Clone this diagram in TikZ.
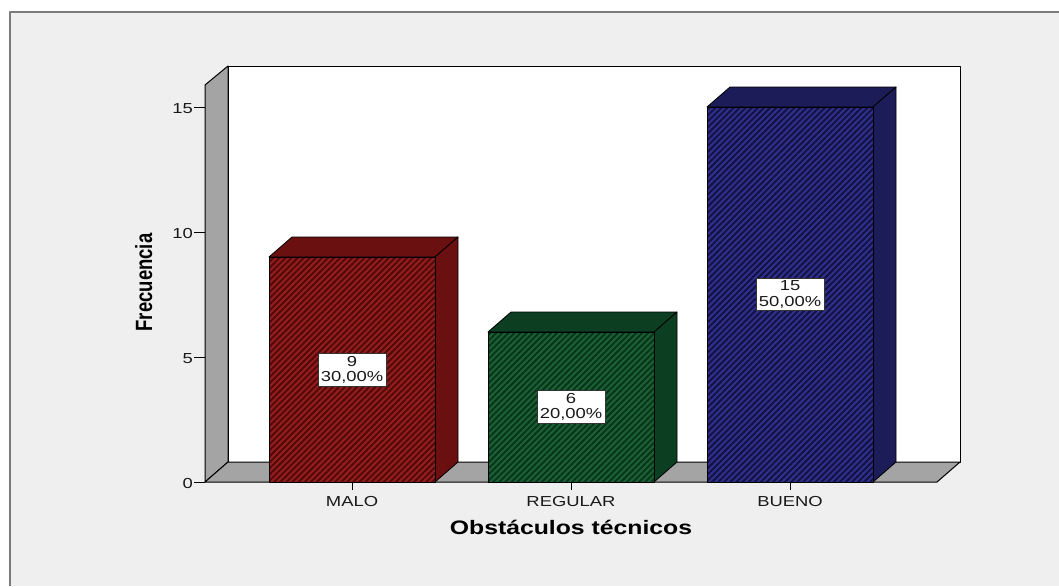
\documentclass[tikz,border=0pt]{standalone}
\usepackage{fontspec}
\setmainfont{Liberation Sans}
\usetikzlibrary{patterns.meta}
\definecolor{panelbg}{HTML}{EFEFEF}
\definecolor{framegray}{HTML}{7C7C7C}
\definecolor{wallgray}{HTML}{A4A4A4}
\definecolor{redbase}{HTML}{921F1F}
\definecolor{redstripe}{HTML}{560808}
\definecolor{redside}{HTML}{6A1010}
\definecolor{greenbase}{HTML}{1E6036}
\definecolor{greenstripe}{HTML}{06361A}
\definecolor{greenside}{HTML}{0C3E22}
\definecolor{bluebase}{HTML}{30308A}
\definecolor{bluestripe}{HTML}{121246}
\definecolor{blueside}{HTML}{1C1C58}
\newcommand{\mybar}[5]{%
  \pgfmathsetmacro\xa{#1}%
  \pgfmathsetmacro\xb{#1+166}%
  \filldraw[draw=black, line width=0.8pt, fill=#5] (\xa,#2) -- (\xa+23,#2-20) -- (\xb+23,#2-20) -- (\xb,#2) -- cycle;
  \filldraw[draw=black, line width=0.8pt, fill=#5] (\xb,#2) -- (\xb+23,#2-20) -- (\xb+23,462) -- (\xb,482) -- cycle;
  \fill[#3] (\xa,#2) rectangle (\xb,482);
  \fill[pattern={Lines[angle=45,distance=4.3pt,line width=2pt]}, pattern color=#4] (\xa,#2) rectangle (\xb,482);
  \draw[black, line width=0.8pt] (\xa,#2) rectangle (\xb,482);
}
\tikzset{
  ticklbl/.style={font=\fontsize{14.5}{15}\selectfont, xscale=1.27, inner sep=0pt, text=black!90},
  vallbl/.style={font=\fontsize{14.5}{15.5}\selectfont, xscale=1.27, fill=white, draw=black!80, line width=0.6pt, align=center, inner xsep=2.2pt, inner ysep=2.6pt, text=black!90},
  axtitle/.style={font=\bfseries\fontsize{19.5}{22}\selectfont, inner sep=0pt, text=black}
}
\begin{document}
\begin{tikzpicture}[x=1pt, y=-1pt, line join=round]
\useasboundingbox (0,0) rectangle (1059,586);
\fill[white] (0,0) rectangle (1059,586);
\fill[panelbg] (10,12) rectangle (1059,586);
\draw[framegray, line width=2pt] (10,586) -- (10,12) -- (1059,12);
% back wall
\filldraw[fill=white, draw=black, line width=1pt] (228,66) rectangle (960,462);
% left side wall
\filldraw[fill=wallgray, draw=black, line width=1pt] (205,85) -- (228,66) -- (228,462) -- (205,482) -- cycle;
% floor
\filldraw[fill=wallgray, draw=black, line width=1pt] (205,482) -- (228,462) -- (960,462) -- (937,482) -- cycle;
% bars
\mybar{269}{257}{redbase}{redstripe}{redside}
\mybar{488}{332}{greenbase}{greenstripe}{greenside}
\mybar{707}{107}{bluebase}{bluestripe}{blueside}
% y ticks
\foreach \v in {0,5,10,15}{
  \draw[black, line width=1pt] (194,482-25*\v) -- (205,482-25*\v);
  \node[ticklbl, anchor=base east] (ytick\v) at (193,488.5-25*\v) {\v};
}
% category ticks and labels
\foreach \cx/\lab/\nm in {352/MALO/cmalo, 571/REGULAR/creg, 790/BUENO/cbueno}{
  \draw[black, line width=1pt] (\cx,482) -- (\cx,490);
  \node[ticklbl, anchor=base] (\nm) at (\cx,506.5) {\lab};
}
% value labels
\node[vallbl] (vmalo) at (352,370) {9\\30,00\%};
\node[vallbl] (vreg) at (571,407) {6\\20,00\%};
\node[vallbl] (vbueno) at (790,294.5) {15\\50,00\%};
% axis titles
\node[axtitle, xscale=1.27, anchor=base] (xtitle) at (571,534) {Obstáculos técnicos};
\node[axtitle, rotate=90, yscale=1.27, anchor=base, font=\bfseries\fontsize{18.5}{20}\selectfont] (ytitle) at (152,282.5) {Frecuencia};
\end{tikzpicture}
\end{document}
